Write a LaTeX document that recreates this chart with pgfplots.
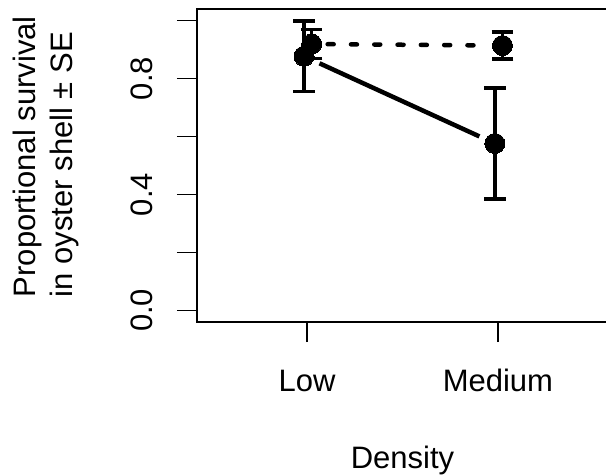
\documentclass[border=0pt]{standalone}
\usepackage{fontspec}
\setmainfont{Liberation Sans}
\usepackage{pgfplots}
\pgfplotsset{compat=1.18}
\newcommand{\fs}{\fontsize{15.5bp}{18.5bp}\selectfont}
\begin{document}
\begin{tikzpicture}
\begin{axis}[
  at={(0,0)}, anchor=south west,
  scale only axis,
  width=205.5bp, height=156.5bp,
  xmin=0.423, xmax=2.577,
  ymin=-0.04, ymax=1.04,
  axis line style={line width=0.75bp},
  tick style={line width=0.75bp, black},
  tick align=outside,
  major tick length=10bp,
  tick pos=left,
  xtick={1,2}, xticklabels={Low,Medium},
  ytick={0,0.2,0.4,0.6,0.8,1.0},
  yticklabels={0.0,,0.4,,0.8,},
  tick label style={font=\fs, inner sep=0pt},
  xticklabel style={anchor=base},
  xticklabel shift=24.85bp,
  yticklabel style={rotate=90, anchor=base},
  yticklabel shift=12bp,
  xlabel={Density},
  xlabel style={font=\fs, at={(axis description cs:0.5,0)}, anchor=base, yshift=-73bp, inner sep=0pt},
  ylabel={Proportional survival\\in oyster shell ± SE},
  ylabel style={font=\fs, align=left, at={(axis description cs:-0.4477,0.0783)}, anchor=north west, inner sep=0pt, rotate=0},
  clip=false,
]
% solid series line (drawn with gaps around points)
\addplot[black, line width=2.25bp, shorten <=8.5bp, shorten >=8.5bp] coordinates {(0.984,0.877) (1.984,0.576)};
% dashed series line
\addplot[black, line width=2.25bp, line cap=round, dash pattern=on 3bp off 8.65bp, shorten <=8bp, shorten >=8bp] coordinates {(1.024,0.919) (2.024,0.914)};
% solid series points with SE
\addplot[black, only marks, mark=*, mark size=5bp, mark options={line width=0pt, fill=black},
  error bars/.cd, y dir=both, y explicit,
  error bar style={line width=1.75bp},
  error mark=|, error mark options={line width=1.75bp, mark size=5.4bp}]
  coordinates {(0.984,0.877) +- (0,0.122) (1.984,0.576) +- (0,0.192)};
% dashed series points with SE
\addplot[black, only marks, mark=*, mark size=5bp, mark options={line width=0pt, fill=black},
  error bars/.cd, y dir=both, y explicit,
  error bar style={line width=1.75bp},
  error mark=|, error mark options={line width=1.75bp, mark size=5.4bp}]
  coordinates {(1.024,0.919) +- (0,0.050) (2.024,0.914) +- (0,0.047)};
\end{axis}
\pgfresetboundingbox
\path[use as bounding box] (-98.5bp,-77bp) rectangle (204.5bp,161bp);
\end{tikzpicture}
\end{document}
